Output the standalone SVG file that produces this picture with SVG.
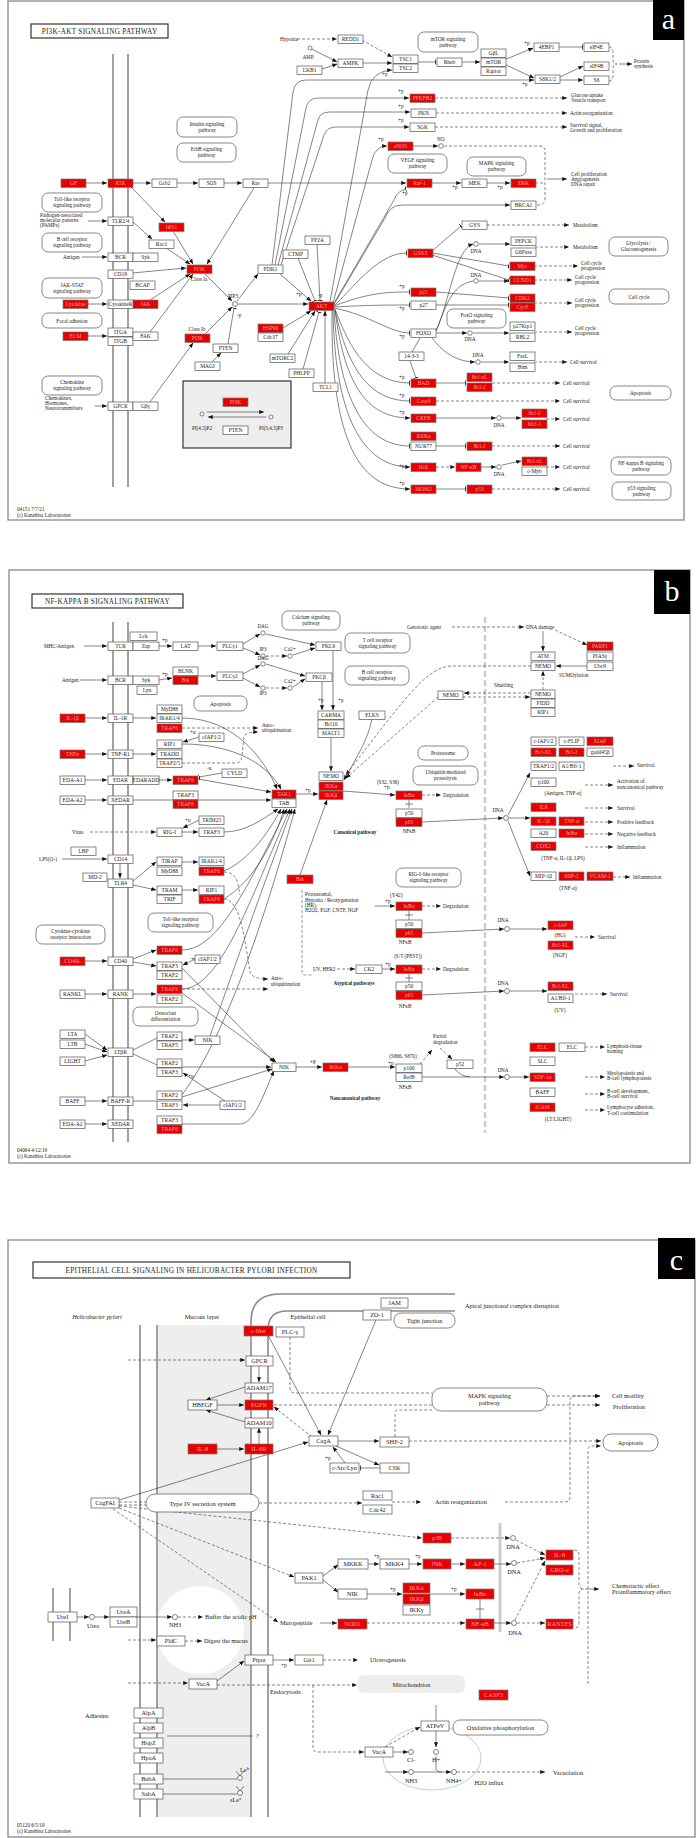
<svg xmlns="http://www.w3.org/2000/svg" width="700" height="1838" viewBox="0 0 700 1838">
<defs>
<marker id="ar" viewBox="0 0 10 10" refX="9.5" refY="5" markerWidth="5" markerHeight="5" orient="auto" markerUnits="userSpaceOnUse"><path d="M0,1L10,5L0,9z" fill="#111"/></marker>
<marker id="tb" viewBox="0 0 2 10" refX="1.5" refY="5" markerWidth="1" markerHeight="6" orient="auto" markerUnits="userSpaceOnUse"><rect width="2" height="10" fill="#111"/></marker>
<style>
text{font-family:"Liberation Serif","Times New Roman",serif;font-size:5.2px;fill:#222}
.fr{fill:none;stroke:#888;stroke-width:1.3}
.tb{fill:#fff;stroke:#333;stroke-width:1.2}
.ttl{font-size:7.2px;letter-spacing:.3px;text-anchor:middle}
.lab{font-size:30px;fill:#fff;text-anchor:middle}
.mem{stroke:#8a8a8a;stroke-width:1.6;fill:none}
.n rect{fill:#fff;stroke:#555;stroke-width:.7}
.r rect{fill:#e60000;stroke:#777;stroke-width:.7}
.n text,.r text{text-anchor:middle;font-size:5.5px}
.r text{fill:#ffa0a0}
.L text{font-size:6.3px}
.pw rect{fill:#fff;stroke:#555;stroke-width:.7}
.pw text{text-anchor:middle;font-size:5.2px}
.e{fill:none;stroke:#333;stroke-width:.6}
.a{marker-end:url(#ar)}
.i{marker-end:url(#tb)}
.d{stroke-dasharray:3 2}
.c{fill:#fff;stroke:#333;stroke-width:.6}
.m{text-anchor:middle}
.b{font-weight:bold}
.s6{font-size:6.3px}
</style>
</defs>
<rect width="700" height="1838" fill="#fff"/>

<!-- ================= PANEL A ================= -->
<g id="panelA-frame">
<rect x="8" y="1" width="676" height="519" class="fr"/>
<rect x="653" y="0" width="31" height="40" fill="#000"/><text x="668.5" y="29" class="lab">a</text>
<rect x="31" y="24" width="137" height="14" class="tb"/><text x="99.5" y="33.5" class="ttl">PI3K-AKT SIGNALING PATHWAY</text>
<line x1="113" y1="54" x2="113" y2="487" class="mem"/><line x1="128" y1="54" x2="128" y2="487" class="mem"/>
<rect x="183" y="381" width="108" height="67" fill="#eee" stroke="#333" stroke-width="1.2"/>
<text x="17" y="511">04151 7/7/21</text><text x="17" y="517">(c) Kanehisa Laboratories</text>
</g>

<g id="panelA-connectors">
<path class="e a" d="M86,183H107"/>
<path class="e a" d="M133,183H151"/>
<path class="e a" d="M177,183H198"/>
<path class="e a" d="M223,183H242"/>
<path class="e a" d="M268,183H406"/>
<path class="e a" d="M131,187L165,222"/>
<path class="e a" d="M173,231L193,264"/>
<path class="e a" d="M254,188L207,264"/>
<path class="e a" d="M133,222L152,239"/>
<path class="e a" d="M166,248L190,264"/>
<path class="e a" d="M82,257H107"/>
<path class="e a" d="M88,221H107"/>
<path class="e a" d="M132,273L186,268"/>
<path class="e a" d="M87,304H107"/>
<path class="e a" d="M150,300L190,274"/>
<path class="e a" d="M87,336H107"/>
<path class="e a" d="M150,332L193,274"/>
<path class="e a" d="M95,406H107"/>
<path class="e a" d="M150,402L193,343"/>
<path class="e a" d="M205,274L232,301"/>
<path class="e a" d="M205,334L232,307"/>
<path class="e a" d="M237,301L258,274"/>
<path class="e a" d="M238,304H308"/>
<path class="e a" d="M280,274L311,301"/>
<path class="e i" d="M228,344L234,308"/>
<path class="e a" d="M212,362L221,353"/>
<path class="e a" d="M283,328L311,311"/>
<path class="e a" d="M288,354L315,311"/>
<path class="e i" d="M303,369L319,312"/>
<path class="e a" d="M325,383V311"/>
<path class="e i" d="M317,244L320,301"/>
<path class="e i" d="M298,258L315,301"/>
<path class="e a" d="M272,265L293,92Q295,80 306,80H534"/>
<path class="e a" d="M275,265L306,108Q308,98 318,98H409"/>
<path class="e a" d="M278,265L318,120Q320,112 330,112H410"/>
<path class="e a" d="M281,265L324,135Q327,127 336,127H409"/>
<path class="e d a" d="M297,39H337"/>
<path class="e a" d="M312,49L337,62"/>
<path class="e a" d="M322,69L337,64"/>
<path class="e d a" d="M362,40L392,57"/>
<path class="e a" d="M363,63H392"/>
<path class="e a" d="M330,302L368,90Q372,71 392,70"/>
<path class="e i" d="M417,62H436"/>
<path class="e a" d="M461,62H480"/>
<path class="e a" d="M504,60L533,48"/>
<path class="e a" d="M504,64L534,78"/>
<path class="e i" d="M559,47H583"/>
<path class="e a" d="M560,77L583,66"/>
<path class="e a" d="M560,80H583"/>
<path class="e d" d="M609,47Q613,47 613,52V60Q613,64 617,64Q613,64 613,68V76Q613,81 609,81"/>
<path class="e a" d="M619,64H632"/>
<path class="e d a" d="M435,98H567"/>
<path class="e d a" d="M436,113H567"/>
<path class="e d a" d="M435,127H567"/>
<path class="e a" d="M333,303L372,160Q375,146 387,146"/>
<path class="e a" d="M412,146H438"/>
<path class="e d" d="M444,146H540Q545,146 545,151V198Q545,205 538,205H535"/>
<path class="e d" d="M535,183H545"/>
<path class="e a" d="M547,179H567"/>
<path class="e i" d="M333,305L394,200Q397,191 406,189"/>
<path class="e a" d="M431,183H461"/>
<path class="e a" d="M487,183H510"/>
<path class="e a" d="M333,306L385,218Q390,205 402,205H510"/>
<path class="e i" d="M334,306C360,280 380,253 407,253"/>
<path class="e i" d="M432,251L461,226"/>
<path class="e d a" d="M487,225H569"/>
<path class="e i" d="M432,253L509,266"/>
<path class="e i" d="M432,255L509,280"/>
<path class="e a" d="M436,331C450,300 455,250 473,244"/>
<path class="e a" d="M479,244H510"/>
<path class="e d a" d="M535,247H569"/>
<path class="e d a" d="M534,266H578"/>
<path class="e" d="M436,331C445,310 450,285 473,281"/>
<path class="e a" d="M479,281H509"/>
<path class="e d a" d="M534,280H572"/>
<path class="e i" d="M334,306C370,292 390,292 410,292"/>
<path class="e i" d="M436,292L509,298"/>
<path class="e i" d="M334,307C370,305 390,305 410,305"/>
<path class="e i" d="M436,305H509"/>
<path class="e d a" d="M534,303H572"/>
<path class="e i" d="M334,308C370,315 390,333 410,333"/>
<path class="e a" d="M436,333H467"/>
<path class="e a" d="M473,333H509"/>
<path class="e d a" d="M534,332H572"/>
<path class="e a" d="M432,338C445,355 460,362 475,362"/>
<path class="e a" d="M481,362H509"/>
<path class="e d a" d="M534,362H567"/>
<path class="e" d="M420,338L412,352"/>
<path class="e i" d="M410,361L416,378"/>
<path class="e i" d="M335,309C350,350 370,383 410,383"/>
<path class="e i" d="M436,383H466"/>
<path class="e d a" d="M492,383H560"/>
<path class="e i" d="M335,310C348,370 370,401 410,401"/>
<path class="e d a" d="M436,401H560"/>
<path class="e a" d="M335,310C345,390 370,418 410,418"/>
<path class="e a" d="M436,418H496"/>
<path class="e a" d="M502,418H521"/>
<path class="e d a" d="M546,419H560"/>
<path class="e i" d="M334,310C340,410 370,446 410,446"/>
<path class="e i" d="M436,446H466"/>
<path class="e d a" d="M492,446H560"/>
<path class="e a" d="M333,310C335,430 370,467 410,467"/>
<path class="e d a" d="M436,467H455"/>
<path class="e a" d="M480,467H496"/>
<path class="e a" d="M502,465L521,461"/>
<path class="e d a" d="M546,467H560"/>
<path class="e a" d="M332,310C330,460 370,489 410,489"/>
<path class="e i" d="M436,489H466"/>
<path class="e d a" d="M492,489H560"/>
<path class="e a" d="M207,412H264"/>
<path class="e a" d="M266,417H208"/>
<circle class="c" cx="310" cy="48" r="2"/>
<circle class="c" cx="235" cy="304" r="2.5"/>
<circle class="c" cx="441" cy="146" r="2.3"/>
<circle class="c" cx="476" cy="244" r="2.3"/>
<circle class="c" cx="476" cy="281" r="2.3"/>
<circle class="c" cx="470" cy="333" r="2.3"/>
<circle class="c" cx="478" cy="362" r="2.3"/>
<circle class="c" cx="499" cy="418" r="2.3"/>
<circle class="c" cx="499" cy="467" r="2.3"/>
<circle class="c" cx="202" cy="414" r="2"/>
<circle class="c" cx="271" cy="417" r="2"/>
</g>

<g id="panelA-labels">
<text x="280" y="41">Hypoxia</text><text x="308" y="59" class="m">AMP</text>
<text x="40" y="217">Pathogen-associated</text><text x="40" y="222">molecular patterns</text><text x="40" y="227">(PAMPs)</text>
<text x="63" y="259">Antigen</text>
<text x="45" y="400">Chemokines,</text><text x="45" y="405">Hormones,</text><text x="45" y="410">Neurotransmitters</text>
<text x="199" y="281" class="m">Class Ia</text><text x="197" y="331" class="m">Class Ib</text><text x="233" y="298" class="m">PIP3</text>
<text x="202" y="430" class="m">PI(4,5)P2</text><text x="271" y="430" class="m">PI(3,4,5)P3</text>
<text x="634" y="63">Protein</text><text x="634" y="68">synthesis</text>
<text x="571" y="97">Glucose uptake</text><text x="571" y="102">Vesicle transport</text>
<text x="570" y="115">Actin reorganization</text>
<text x="570" y="127">Survival signal,</text><text x="570" y="132">Growth and proliferation</text>
<text x="437" y="141">NO</text>
<text x="571" y="176">Cell proliferation</text><text x="571" y="181">Angiogenesis</text><text x="571" y="186">DNA repair</text>
<text x="573" y="227">Metabolism</text><text x="573" y="249">Metabolism</text>
<text x="476" y="253" class="m">DNA</text><text x="476" y="277" class="m">DNA</text><text x="470" y="341" class="m">DNA</text><text x="478" y="357" class="m">DNA</text><text x="499" y="427" class="m">DNA</text><text x="499" y="476" class="m">DNA</text>
<text x="581" y="265">Cell cycle</text><text x="581" y="270">progression</text>
<text x="575" y="279">Cell cycle</text><text x="575" y="284">progression</text>
<text x="575" y="302">Cell cycle</text><text x="575" y="307">progression</text>
<text x="575" y="330">Cell cycle</text><text x="575" y="335">progression</text>
<text x="570" y="364">Cell survival</text><text x="563" y="385">Cell survival</text><text x="563" y="403">Cell survival</text><text x="563" y="421">Cell survival</text><text x="563" y="448">Cell survival</text><text x="563" y="469">Cell survival</text><text x="563" y="491">Cell survival</text>
<text x="382" y="76">+p</text><text x="398" y="93">+p</text><text x="398" y="108">+p</text><text x="398" y="122">+p</text><text x="378" y="141">+p</text><text x="402" y="195">+p</text><text x="452" y="189">+p</text><text x="497" y="189">+p</text><text x="522" y="86">+p</text><text x="524" y="45">+p</text><text x="399" y="288">+p</text><text x="399" y="310">+p</text><text x="399" y="338">+p</text><text x="399" y="379">+p</text><text x="399" y="397">+p</text><text x="399" y="414">+p</text><text x="399" y="468">+p</text><text x="399" y="485">+p</text><text x="296" y="296">+p</text><text x="318" y="297">-p</text><text x="237" y="317">-p</text>
</g>

<g id="panelA-pathways">
<g id="a-pw-toll" class="pw" transform="translate(42,193)"><rect width="60" height="19" rx="6"/><text x="30" y="8">Toll-like receptor</text><text x="30" y="14">signaling pathway</text></g>
<g id="a-pw-bcr" class="pw" transform="translate(42,233)"><rect width="60" height="19" rx="6"/><text x="30" y="8">B cell receptor</text><text x="30" y="14">signaling pathway</text></g>
<g id="a-pw-jak" class="pw" transform="translate(42,278)"><rect width="60" height="20" rx="6"/><text x="30" y="8.5">JAK-STAT</text><text x="30" y="14.5">signaling pathway</text></g>
<g id="a-pw-focal" class="pw" transform="translate(42,313)"><rect width="60" height="15" rx="6"/><text x="30" y="9.5">Focal adhesion</text></g>
<g id="a-pw-chemo" class="pw" transform="translate(42,376)"><rect width="60" height="19" rx="6"/><text x="30" y="8">Chemokine</text><text x="30" y="14">signaling pathway</text></g>
<g id="a-pw-ins" class="pw" transform="translate(177,117)"><rect width="60" height="20" rx="6"/><text x="30" y="8.5">Insulin signaling</text><text x="30" y="14.5">pathway</text></g>
<g id="a-pw-erbb" class="pw" transform="translate(177,143)"><rect width="59" height="19" rx="6"/><text x="29.5" y="8">ErbB signaling</text><text x="29.5" y="14">pathway</text></g>
<g id="a-pw-mtor" class="pw" transform="translate(418,32)"><rect width="60" height="20" rx="6"/><text x="30" y="8.5">mTOR signaling</text><text x="30" y="14.5">pathway</text></g>
<g id="a-pw-vegf" class="pw" transform="translate(388,154)"><rect width="59" height="19" rx="6"/><text x="29.5" y="8">VEGF signaling</text><text x="29.5" y="14">pathway</text></g>
<g id="a-pw-mapk" class="pw" transform="translate(467,157)"><rect width="59" height="19" rx="6"/><text x="29.5" y="8">MAPK signaling</text><text x="29.5" y="14">pathway</text></g>
<g id="a-pw-glyc" class="pw" transform="translate(609,237)"><rect width="59" height="19" rx="6"/><text x="29.5" y="8">Glycolysis /</text><text x="29.5" y="14">Gluconeogenesis</text></g>
<g id="a-pw-cc" class="pw" transform="translate(609,289)"><rect width="60" height="15" rx="6"/><text x="30" y="9.5">Cell cycle</text></g>
<g id="a-pw-foxo" class="pw" transform="translate(447,309)"><rect width="59" height="19" rx="6"/><text x="29.5" y="8">FoxO signaling</text><text x="29.5" y="14">pathway</text></g>
<g id="a-pw-apop" class="pw" transform="translate(610,386)"><rect width="61" height="14" rx="6"/><text x="30.5" y="9">Apoptosis</text></g>
<g id="a-pw-nfkb" class="pw" transform="translate(611,457)"><rect width="60" height="18" rx="6"/><text x="30" y="7.5">NF-kappa B signaling</text><text x="30" y="13.5">pathway</text></g>
<g id="a-pw-p53" class="pw" transform="translate(612,482)"><rect width="59" height="18" rx="6"/><text x="29.5" y="7.5">p53 signaling</text><text x="29.5" y="13.5">pathway</text></g>
</g>

<g id="panelA-nodes">
<g id="a-GF" class="r" transform="translate(61,179)"><rect width="25" height="8.5"/><text x="12.5" y="6.4">GF</text></g>
<g id="a-RTK" class="r" transform="translate(108,179)"><rect width="25" height="8.5"/><text x="12.5" y="6.4">RTK</text></g>
<g id="a-IRS1" class="r" transform="translate(159,223)"><rect width="25" height="8.5"/><text x="12.5" y="6.4">IRS1</text></g>
<g id="a-PI3K1" class="r" transform="translate(187,265)"><rect width="25" height="8.5"/><text x="12.5" y="6.4">PI3K</text></g>
<g id="a-Cyt" class="r" transform="translate(63,300)"><rect width="25" height="8.5"/><text x="12.5" y="6.4">Cytokine</text></g>
<g id="a-JAK" class="r" transform="translate(133,300)"><rect width="25" height="8.5"/><text x="12.5" y="6.4">JAK</text></g>
<g id="a-ECM" class="r" transform="translate(63,332)"><rect width="25" height="8.5"/><text x="12.5" y="6.4">ECM</text></g>
<g id="a-PI3K2" class="r" transform="translate(185,334)"><rect width="25" height="8.5"/><text x="12.5" y="6.4">PI3K</text></g>
<g id="a-AKT" class="r" transform="translate(309,302)"><rect width="25" height="8.5"/><text x="12.5" y="6.4">AKT</text></g>
<g id="a-HSP90" class="r" transform="translate(258,324)"><rect width="25" height="8.5"/><text x="12.5" y="6.4">HSP90</text></g>
<g id="a-PFK2" class="r" transform="translate(410,94)"><rect width="25" height="8.5"/><text x="12.5" y="6.4">PFKFB2</text></g>
<g id="a-eNOS" class="r" transform="translate(388,142)"><rect width="25" height="8.5"/><text x="12.5" y="6.4">eNOS</text></g>
<g id="a-Raf1" class="r" transform="translate(407,179)"><rect width="25" height="8.5"/><text x="12.5" y="6.4">Raf-1</text></g>
<g id="a-ERK" class="r" transform="translate(511,179)"><rect width="25" height="8.5"/><text x="12.5" y="6.4">ERK</text></g>
<g id="a-GSK3" class="r" transform="translate(408,249)"><rect width="25" height="8.5"/><text x="12.5" y="6.4">GSK3</text></g>
<g id="a-Myc" class="r" transform="translate(510,262)"><rect width="25" height="8.5"/><text x="12.5" y="6.4">Myc</text></g>
<g id="a-CCND1" class="r" transform="translate(510,276)"><rect width="25" height="8.5"/><text x="12.5" y="6.4">CCND1</text></g>
<g id="a-p21" class="r" transform="translate(411,288)"><rect width="25" height="8.5"/><text x="12.5" y="6.4">p21</text></g>
<g id="a-CDK2" class="r" transform="translate(510,294)"><rect width="25" height="8.5"/><text x="12.5" y="6.4">CDK2</text></g>
<g id="a-CycE" class="r" transform="translate(510,303)"><rect width="25" height="8.5"/><text x="12.5" y="6.4">CycE</text></g>
<g id="a-BAD" class="r" transform="translate(411,379)"><rect width="25" height="8.5"/><text x="12.5" y="6.4">BAD</text></g>
<g id="a-BclxL1" class="r" transform="translate(467,373)"><rect width="25" height="8.5"/><text x="12.5" y="6.4">Bcl-xL</text></g>
<g id="a-Bcl2a" class="r" transform="translate(467,383)"><rect width="25" height="8.5"/><text x="12.5" y="6.4">Bcl-2</text></g>
<g id="a-Casp9" class="r" transform="translate(411,397)"><rect width="25" height="8.5"/><text x="12.5" y="6.4">Casp9</text></g>
<g id="a-CREB" class="r" transform="translate(411,414)"><rect width="25" height="8.5"/><text x="12.5" y="6.4">CREB</text></g>
<g id="a-Bcl2b" class="r" transform="translate(522,409)"><rect width="25" height="8.5"/><text x="12.5" y="6.4">Bcl-2</text></g>
<g id="a-Mcl1" class="r" transform="translate(522,420)"><rect width="25" height="8.5"/><text x="12.5" y="6.4">Mcl-1</text></g>
<g id="a-RXR" class="r" transform="translate(411,432)"><rect width="25" height="8.5"/><text x="12.5" y="6.4">RXRα</text></g>
<g id="a-Bcl2c" class="r" transform="translate(467,442)"><rect width="25" height="8.5"/><text x="12.5" y="6.4">Bcl-2</text></g>
<g id="a-IKK" class="r" transform="translate(411,463)"><rect width="25" height="8.5"/><text x="12.5" y="6.4">IKK</text></g>
<g id="a-NFkB" class="r" transform="translate(456,463)"><rect width="25" height="8.5"/><text x="12.5" y="6.4">NF-κB</text></g>
<g id="a-BclxL2" class="r" transform="translate(522,457)"><rect width="25" height="8.5"/><text x="12.5" y="6.4">Bcl-xL</text></g>
<g id="a-MDM2" class="r" transform="translate(411,485)"><rect width="25" height="8.5"/><text x="12.5" y="6.4">MDM2</text></g>
<g id="a-p53" class="r" transform="translate(467,485)"><rect width="25" height="8.5"/><text x="12.5" y="6.4">p53</text></g>
<g id="a-PI3K3" class="r" transform="translate(223,398)"><rect width="25" height="8.5"/><text x="12.5" y="6.4">PI3K</text></g>
<g id="a-Grb2" class="n" transform="translate(152,179)"><rect width="25" height="8.5"/><text x="12.5" y="6.4">Grb2</text></g>
<g id="a-SOS" class="n" transform="translate(199,179)"><rect width="25" height="8.5"/><text x="12.5" y="6.4">SOS</text></g>
<g id="a-Ras" class="n" transform="translate(243,179)"><rect width="25" height="8.5"/><text x="12.5" y="6.4">Ras</text></g>
<g id="a-TLR" class="n" transform="translate(108,217)"><rect width="25" height="8.5"/><text x="12.5" y="6.4">TLR2/4</text></g>
<g id="a-BCR" class="n" transform="translate(108,253)"><rect width="25" height="8.5"/><text x="12.5" y="6.4">BCR</text></g>
<g id="a-Syk" class="n" transform="translate(133,253)"><rect width="25" height="8.5"/><text x="12.5" y="6.4">Syk</text></g>
<g id="a-CD19" class="n" transform="translate(108,270)"><rect width="25" height="8.5"/><text x="12.5" y="6.4">CD19</text></g>
<g id="a-BCAP" class="n" transform="translate(130,281)"><rect width="25" height="8.5"/><text x="12.5" y="6.4">BCAP</text></g>
<g id="a-CytR" class="n" transform="translate(108,300)"><rect width="25" height="8.5"/><text x="12.5" y="6.4">CytokineR</text></g>
<g id="a-ITGA" class="n" transform="translate(108,328)"><rect width="25" height="8.5"/><text x="12.5" y="6.4">ITGA</text></g>
<g id="a-ITGB" class="n" transform="translate(108,337)"><rect width="25" height="8.5"/><text x="12.5" y="6.4">ITGB</text></g>
<g id="a-FAK" class="n" transform="translate(133,332)"><rect width="25" height="8.5"/><text x="12.5" y="6.4">FAK</text></g>
<g id="a-GPCR" class="n" transform="translate(108,402)"><rect width="25" height="8.5"/><text x="12.5" y="6.4">GPCR</text></g>
<g id="a-Gbg" class="n" transform="translate(133,402)"><rect width="25" height="8.5"/><text x="12.5" y="6.4">Gβγ</text></g>
<g id="a-Rac1" class="n" transform="translate(149,240)"><rect width="25" height="8.5"/><text x="12.5" y="6.4">Rac1</text></g>
<g id="a-PDK1" class="n" transform="translate(258,265)"><rect width="25" height="8.5"/><text x="12.5" y="6.4">PDK1</text></g>
<g id="a-PTEN" class="n" transform="translate(213,344)"><rect width="25" height="8.5"/><text x="12.5" y="6.4">PTEN</text></g>
<g id="a-MAGI" class="n" transform="translate(195,362)"><rect width="25" height="8.5"/><text x="12.5" y="6.4">MAGI</text></g>
<g id="a-Cdc37" class="n" transform="translate(258,333)"><rect width="25" height="8.5"/><text x="12.5" y="6.4">Cdc37</text></g>
<g id="a-mTORC2" class="n" transform="translate(270,354)"><rect width="25" height="8.5"/><text x="12.5" y="6.4">mTORC2</text></g>
<g id="a-PHLPP" class="n" transform="translate(289,369)"><rect width="25" height="8.5"/><text x="12.5" y="6.4">PHLPP</text></g>
<g id="a-TCL1" class="n" transform="translate(313,383)"><rect width="25" height="8.5"/><text x="12.5" y="6.4">TCL1</text></g>
<g id="a-PP2A" class="n" transform="translate(305,236)"><rect width="25" height="8.5"/><text x="12.5" y="6.4">PP2A</text></g>
<g id="a-CTMP" class="n" transform="translate(283,250)"><rect width="25" height="8.5"/><text x="12.5" y="6.4">CTMP</text></g>
<g id="a-REDD1" class="n" transform="translate(338,35)"><rect width="25" height="8.5"/><text x="12.5" y="6.4">REDD1</text></g>
<g id="a-AMPK" class="n" transform="translate(338,59)"><rect width="25" height="8.5"/><text x="12.5" y="6.4">AMPK</text></g>
<g id="a-LKB1" class="n" transform="translate(297,66)"><rect width="25" height="8.5"/><text x="12.5" y="6.4">LKB1</text></g>
<g id="a-TSC1" class="n" transform="translate(393,55)"><rect width="25" height="8.5"/><text x="12.5" y="6.4">TSC1</text></g>
<g id="a-TSC2" class="n" transform="translate(393,64)"><rect width="25" height="8.5"/><text x="12.5" y="6.4">TSC2</text></g>
<g id="a-Rheb" class="n" transform="translate(437,58)"><rect width="25" height="8.5"/><text x="12.5" y="6.4">Rheb</text></g>
<g id="a-GbL" class="n" transform="translate(481,49)"><rect width="25" height="8.5"/><text x="12.5" y="6.4">GβL</text></g>
<g id="a-mTOR" class="n" transform="translate(481,58)"><rect width="25" height="8.5"/><text x="12.5" y="6.4">mTOR</text></g>
<g id="a-Raptor" class="n" transform="translate(481,67)"><rect width="25" height="8.5"/><text x="12.5" y="6.4">Raptor</text></g>
<g id="a-4EBP1" class="n" transform="translate(534,43)"><rect width="25" height="8.5"/><text x="12.5" y="6.4">4EBP1</text></g>
<g id="a-eIF4E" class="n" transform="translate(584,43)"><rect width="25" height="8.5"/><text x="12.5" y="6.4">eIF4E</text></g>
<g id="a-S6K" class="n" transform="translate(535,75)"><rect width="25" height="8.5"/><text x="12.5" y="6.4">S6K1/2</text></g>
<g id="a-eIF4B" class="n" transform="translate(584,62)"><rect width="25" height="8.5"/><text x="12.5" y="6.4">eIF4B</text></g>
<g id="a-S6" class="n" transform="translate(584,76)"><rect width="25" height="8.5"/><text x="12.5" y="6.4">S6</text></g>
<g id="a-PKN" class="n" transform="translate(411,109)"><rect width="25" height="8.5"/><text x="12.5" y="6.4">PKN</text></g>
<g id="a-SGK" class="n" transform="translate(410,123)"><rect width="25" height="8.5"/><text x="12.5" y="6.4">SGK</text></g>
<g id="a-MEK" class="n" transform="translate(462,179)"><rect width="25" height="8.5"/><text x="12.5" y="6.4">MEK</text></g>
<g id="a-BRCA1" class="n" transform="translate(511,201)"><rect width="25" height="8.5"/><text x="12.5" y="6.4">BRCA1</text></g>
<g id="a-GYS" class="n" transform="translate(462,221)"><rect width="25" height="8.5"/><text x="12.5" y="6.4">GYS</text></g>
<g id="a-PEPCK" class="n" transform="translate(511,237)"><rect width="25" height="8.5"/><text x="12.5" y="6.4">PEPCK</text></g>
<g id="a-G6Pase" class="n" transform="translate(511,248)"><rect width="25" height="8.5"/><text x="12.5" y="6.4">G6Pase</text></g>
<g id="a-p27" class="n" transform="translate(411,301)"><rect width="25" height="8.5"/><text x="12.5" y="6.4">p27</text></g>
<g id="a-p27Kip1" class="n" transform="translate(510,322)"><rect width="25" height="8.5"/><text x="12.5" y="6.4">p27Kip1</text></g>
<g id="a-RBL2" class="n" transform="translate(510,333)"><rect width="25" height="8.5"/><text x="12.5" y="6.4">RBL2</text></g>
<g id="a-FOXO" class="n" transform="translate(411,329)"><rect width="25" height="8.5"/><text x="12.5" y="6.4">FOXO</text></g>
<g id="a-1433" class="n" transform="translate(399,352)"><rect width="25" height="8.5"/><text x="12.5" y="6.4">14-3-3</text></g>
<g id="a-FasL" class="n" transform="translate(510,352)"><rect width="25" height="8.5"/><text x="12.5" y="6.4">FasL</text></g>
<g id="a-Bim" class="n" transform="translate(510,363)"><rect width="25" height="8.5"/><text x="12.5" y="6.4">Bim</text></g>
<g id="a-NUR77" class="n" transform="translate(411,442)"><rect width="25" height="8.5"/><text x="12.5" y="6.4">NUR77</text></g>
<g id="a-cMyb" class="n" transform="translate(522,467)"><rect width="25" height="8.5"/><text x="12.5" y="6.4">c-Myb</text></g>
<g id="a-PTEN2" class="n" transform="translate(223,426)"><rect width="25" height="8.5"/><text x="12.5" y="6.4">PTEN</text></g>
</g>

<!-- ================= PANEL B ================= -->
<g id="panelB-frame">
<rect x="9" y="570" width="681" height="593" class="fr"/>
<rect x="654" y="570" width="36" height="44" fill="#000"/><text x="672" y="601" class="lab">b</text>
<rect x="32" y="594" width="151" height="14" class="tb"/><text x="107.5" y="603.5" class="ttl">NF-KAPPA B SIGNALING PATHWAY</text>
<line x1="113" y1="622" x2="113" y2="1142" class="mem"/><line x1="128" y1="622" x2="128" y2="1142" class="mem"/>
<line x1="485" y1="617" x2="485" y2="1133" stroke="#ccc" stroke-width="2.5" stroke-dasharray="6 3"/>
<path d="M302,890V972Q302,975 306,975H312" fill="none" stroke="#555" stroke-width=".6" stroke-dasharray="3 2"/>
<text x="17" y="1152">04064 4/12/19</text><text x="17" y="1158">(c) Kanehisa Laboratories</text>
</g>

<g id="panelB-connectors">
<path class="e a" d="M84,646H107"/>
<path class="e a" d="M159,646H172"/>
<path class="e a" d="M198,646H216"/>
<path class="e a" d="M243,644L260,634"/>
<path class="e a" d="M243,648L260,655"/>
<path class="e d a" d="M266,656H287"/>
<path class="e a" d="M266,634L315,645"/>
<path class="e a" d="M293,655L315,648"/>
<path class="e a" d="M80,680H107"/>
<path class="e a" d="M159,680L172,678"/>
<path class="e a" d="M198,676H216"/>
<path class="e a" d="M243,674L260,665"/>
<path class="e a" d="M243,678L260,687"/>
<path class="e d a" d="M266,688H287"/>
<path class="e a" d="M266,664L305,676"/>
<path class="e a" d="M293,687L305,679"/>
<path class="e a" d="M333,651V710"/>
<path class="e a" d="M322,682V710"/>
<path class="e a" d="M331,738V771"/>
<path class="e a" d="M85,718H107"/>
<path class="e a" d="M133,718H156"/>
<path class="e d a" d="M182,728H258"/>
<path class="e a" d="M182,718C235,718 265,760 277,789"/>
<path class="e a" d="M85,754H107"/>
<path class="e a" d="M133,754H156"/>
<path class="e a" d="M182,744C235,744 268,765 281,789"/>
<path class="e d a" d="M182,763H236Q242,763 242,755L244,737Q245,732 258,732"/>
<path class="e a" d="M199,737L183,742"/>
<path class="e a" d="M85,780H107"/>
<path class="e a" d="M159,780H172"/>
<path class="e i" d="M222,773L199,777"/>
<path class="e a" d="M198,779L271,792"/>
<path class="e a" d="M85,800H107"/>
<path class="e a" d="M133,800H271"/>
<path class="e d a" d="M90,832H156"/>
<path class="e a" d="M182,832H198"/>
<path class="e a" d="M199,820L183,828"/>
<path class="e a" d="M224,832C245,832 262,820 278,809"/>
<path class="e a" d="M62,859H107"/>
<path class="e a" d="M120,863V878"/>
<path class="e a" d="M133,881L156,862"/>
<path class="e a" d="M133,885L156,890"/>
<path class="e a" d="M182,862H198"/>
<path class="e a" d="M224,871C250,860 270,830 281,809"/>
<path class="e d" d="M224,872C238,872 238,885 240,895"/>
<path class="e a" d="M182,890H198"/>
<path class="e a" d="M224,899C255,880 275,840 284,809"/>
<path class="e d a" d="M224,899C240,899 245,940 250,972Q252,979 268,979"/>
<path class="e a" d="M182,950C220,950 250,880 287,809"/>
<path class="e a" d="M85,961H107"/>
<path class="e a" d="M133,959L156,950"/>
<path class="e a" d="M133,962L156,966"/>
<path class="e a" d="M195,959L183,965"/>
<path class="e a" d="M182,968L274,1062"/>
<path class="e a" d="M85,994H107"/>
<path class="e a" d="M133,994H156"/>
<path class="e a" d="M182,989C220,989 250,900 290,809"/>
<path class="e d a" d="M182,989H268"/>
<path class="e a" d="M182,993L276,1062"/>
<path class="e a" d="M85,1034L107,1050"/>
<path class="e a" d="M85,1044L107,1052"/>
<path class="e a" d="M85,1061L107,1055"/>
<path class="e" d="M133,1050L157,1038"/>
<path class="e" d="M133,1054L157,1065"/>
<path class="e a" d="M182,1040H194"/>
<path class="e a" d="M210,1036C230,980 265,880 292,809"/>
<path class="e a" d="M182,1067H271"/>
<path class="e a" d="M85,1101H107"/>
<path class="e" d="M133,1101H157"/>
<path class="e a" d="M182,1097L272,1069"/>
<path class="e a" d="M182,1095C230,1030 270,900 295,809"/>
<path class="e a" d="M220,1105H183"/>
<path class="e a" d="M225,1101L183,1073"/>
<path class="e a" d="M85,1124H107"/>
<path class="e a" d="M182,1124H240C255,1124 265,1090 274,1071"/>
<path class="e a" d="M296,1067H322"/>
<path class="e a" d="M348,1067H395"/>
<path class="e d a" d="M420,1064L432,1050"/>
<path class="e d a" d="M440,1048L452,1059"/>
<path class="e a" d="M422,1077H504"/>
<path class="e" d="M455,1069Q460,1076 470,1077"/>
<path class="e a" d="M510,1077H529"/>
<path class="e d a" d="M585,1047H605"/>
<path class="e d a" d="M585,1077H605"/>
<path class="e d a" d="M585,1094H605"/>
<path class="e d a" d="M585,1110H605"/>
<path class="e a" d="M296,794H318"/>
<path class="e a" d="M343,791L395,795"/>
<path class="e d a" d="M422,795H441"/>
<path class="e" d="M409,799.5V808M405,804H413"/>
<path class="e a" d="M422,822L503,818"/>
<path class="e a" d="M508,815L530,773"/>
<path class="e a" d="M509,818H530"/>
<path class="e a" d="M508,821L530,876"/>
<path class="e d a" d="M613,766H634"/>
<path class="e d a" d="M585,785H613"/>
<path class="e d a" d="M585,808H613"/>
<path class="e d a" d="M585,822H613"/>
<path class="e d a" d="M585,834H613"/>
<path class="e d a" d="M585,847H613"/>
<path class="e d a" d="M613,877H630"/>
<path class="e a" d="M300,875L327,800"/>
<path class="e d a" d="M452,627H524"/>
<path class="e a" d="M543,631V651"/>
<path class="e d a" d="M555,630L587,645"/>
<path class="e a" d="M587,666H556"/>
<path class="e d a" d="M543,690V671"/>
<path class="e d a" d="M531,693H464"/>
<path class="e d a" d="M463,697H530"/>
<path class="e d a" d="M531,666H452C430,666 410,690 346,775"/>
<path class="e d a" d="M438,697L346,778"/>
<path class="e a" d="M372,719C368,740 355,760 344,780"/>
<path class="e a" d="M375,906H395"/>
<path class="e" d="M409,911V920M405,915H413"/>
<path class="e d a" d="M422,906H441"/>
<path class="e a" d="M422,933L504,929"/>
<path class="e a" d="M510,929H547"/>
<path class="e d a" d="M575,937H595"/>
<path class="e d a" d="M337,969H355"/>
<path class="e a" d="M382,969H395"/>
<path class="e d a" d="M422,969H441"/>
<path class="e" d="M409,974V982M405,978H413"/>
<path class="e a" d="M422,995L504,991"/>
<path class="e a" d="M510,991H547"/>
<path class="e d a" d="M575,994H607"/>
<circle class="c" cx="263" cy="633" r="2.2"/><circle class="c" cx="263" cy="656" r="2.2"/><circle class="c" cx="290" cy="656" r="2.2"/>
<circle class="c" cx="263" cy="664" r="2.2"/><circle class="c" cx="263" cy="688" r="2.2"/><circle class="c" cx="290" cy="688" r="2.2"/>
<circle class="c" cx="506" cy="818" r="2.5"/><circle class="c" cx="507" cy="929" r="2.5"/><circle class="c" cx="507" cy="991" r="2.5"/><circle class="c" cx="507" cy="1077" r="2.5"/>
</g>

<g id="panelB-labels">
<text x="44" y="648">MHC/Antigen</text><text x="62" y="682">Antigen</text><text x="72" y="834">Virus</text><text x="39" y="861">LPS(O-)</text>
<text x="263" y="628" class="m">DAG</text><text x="263" y="651" class="m">IP3</text><text x="290" y="651" class="m">Ca2+</text>
<text x="263" y="660" class="m">DAG</text><text x="263" y="695" class="m">IP3</text><text x="290" y="683" class="m">Ca2+</text>
<text x="262" y="727">Auto-</text><text x="262" y="732">ubiquitination</text>
<text x="271" y="980">Auto-</text><text x="271" y="986">ubiquitination</text>
<text x="355" y="834" class="m b">Canonical pathway</text>
<text x="354" y="985" class="m b">Atypical pathways</text>
<text x="355" y="1100" class="m b">Noncanonical pathway</text>
<text x="388" y="784" class="m">(S32, S36)</text>
<text x="443" y="797">Degradation</text><text x="409" y="833" class="m">NFκB</text><text x="498" y="812" class="m">DNA</text>
<text x="407" y="629">Genotoxic agent</text><text x="526" y="629">DNA damage</text>
<text x="559" y="677">SUMOylation</text><text x="494" y="687">Shuttling</text>
<text x="637" y="767">Survival</text>
<text x="563" y="795" class="m">(Antigen, TNF-α)</text>
<text x="617" y="783">Activation of</text><text x="617" y="789">noncanonical pathway</text>
<text x="617" y="810">Survival</text><text x="617" y="824">Positive feedback</text><text x="617" y="836">Negative feedback</text><text x="617" y="849">Inflammation</text>
<text x="563" y="860" class="m">(TNF-α, IL-1β, LPS)</text>
<text x="633" y="879">Inflammation</text><text x="568" y="890" class="m">(TNF-α)</text>
<text x="305" y="896">Proteasomal,</text><text x="305" y="902">Hypoxia / Reoxygenation</text><text x="305" y="907">(HR),</text><text x="305" y="912">H2O2, EGF, CNTF, NGF</text>
<text x="313" y="971">UV, HER2</text>
<text x="390" y="897">(Y42)</text><text x="443" y="908">Degradation</text><text x="405" y="944" class="m">NFκB</text><text x="503" y="922" class="m">DNA</text>
<text x="560" y="937" class="m">(HG)</text><text x="560" y="957" class="m">(NGF)</text><text x="598" y="939">Survival</text>
<text x="408" y="958" class="m">(S/T (PEST))</text><text x="443" y="971">Degradation</text><text x="405" y="1008" class="m">NFκB</text><text x="503" y="985" class="m">DNA</text>
<text x="560" y="1012" class="m">(UV)</text><text x="610" y="996">Survival</text>
<text x="433" y="1038">Partial</text><text x="433" y="1044">degradation</text>
<text x="403" y="1058" class="m">(S866, S870)</text><text x="405" y="1089" class="m">NFκB</text><text x="503" y="1072" class="m">DNA</text>
<text x="558" y="1121" class="m">(LT/LIGHT)</text>
<text x="607" y="1048">Lymphoid-tissue</text><text x="607" y="1053">homing</text>
<text x="607" y="1075">Myelopoiesis and</text><text x="607" y="1080">B-cell lymphopoiesis</text>
<text x="607" y="1093">B-cell development,</text><text x="607" y="1098">B-cell survival</text>
<text x="607" y="1109">Lymphocyte adhesion,</text><text x="607" y="1115">T-cell costimulation</text>
<text x="162" y="642">+p</text><text x="162" y="676">+p</text><text x="305" y="792">+p</text><text x="384" y="789">+p</text><text x="318" y="702">+p</text><text x="338" y="702">+p</text><text x="190" y="734">+u</text><text x="207" y="770">-u</text><text x="185" y="822">+u</text><text x="188" y="1078">+u</text><text x="191" y="961">+u</text><text x="310" y="1064">+P</text><text x="388" y="1065">+p</text><text x="385" y="903">+p</text><text x="385" y="966">+p</text>
</g>

<g id="panelB-pathways">
<g id="b-pw-ca" class="pw" transform="translate(282,611)"><rect width="58" height="19" rx="6"/><text x="29" y="8">Calcium signaling</text><text x="29" y="14">pathway</text></g>
<g id="b-pw-tcr" class="pw" transform="translate(345,633)"><rect width="65" height="20" rx="6"/><text x="32.5" y="8.5">T cell receptor</text><text x="32.5" y="14.5">signaling pathway</text></g>
<g id="b-pw-bcr" class="pw" transform="translate(345,666)"><rect width="64" height="19" rx="6"/><text x="32" y="8">B cell receptor</text><text x="32" y="14">signaling pathway</text></g>
<g id="b-pw-apop" class="pw" transform="translate(194,696)"><rect width="53" height="15" rx="6"/><text x="26.5" y="9.5">Apoptosis</text></g>
<g id="b-pw-prot" class="pw" transform="translate(418,746)"><rect width="50" height="14" rx="6"/><text x="25" y="9">Proteasome</text></g>
<g id="b-pw-ubi" class="pw" transform="translate(413,766)"><rect width="65" height="19" rx="6"/><text x="32.5" y="8">Ubiquitin mediated</text><text x="32.5" y="14">proteolysis</text></g>
<g id="b-pw-rig" class="pw" transform="translate(396,868)"><rect width="65" height="19" rx="6"/><text x="32.5" y="8">RIG-I-like receptor</text><text x="32.5" y="14">signaling pathway</text></g>
<g id="b-pw-toll" class="pw" transform="translate(148,913)"><rect width="65" height="19" rx="6"/><text x="32.5" y="8">Toll-like receptor</text><text x="32.5" y="14">signaling pathway</text></g>
<g id="b-pw-cyt" class="pw" transform="translate(36,925)"><rect width="69" height="19" rx="6"/><text x="34.5" y="8">Cytokine-cytokine</text><text x="34.5" y="14">receptor interaction</text></g>
<g id="b-pw-osteo" class="pw" transform="translate(133,1007)"><rect width="65" height="19" rx="6"/><text x="32.5" y="8">Osteoclast</text><text x="32.5" y="14">differentiation</text></g>
</g>

<g id="panelB-nodes">
<g id="b-Lck" class="n" transform="translate(130,632)"><rect width="27" height="8.5"/><text x="13.5" y="6.4">Lck</text></g>
<g id="b-TCR" class="n" transform="translate(108,642)"><rect width="25" height="8.5"/><text x="12.5" y="6.4">TCR</text></g>
<g id="b-Zap" class="n" transform="translate(133,642)"><rect width="26" height="8.5"/><text x="13" y="6.4">Zap</text></g>
<g id="b-LAT" class="n" transform="translate(173,642)"><rect width="25" height="8.5"/><text x="12.5" y="6.4">LAT</text></g>
<g id="b-PLCg1" class="n" transform="translate(217,642)"><rect width="26" height="8.5"/><text x="13" y="6.4">PLCγ1</text></g>
<g id="b-PKCt" class="n" transform="translate(316,642)"><rect width="25" height="8.5"/><text x="12.5" y="6.4">PKCθ</text></g>
<g id="b-BCR" class="n" transform="translate(108,676)"><rect width="25" height="8.5"/><text x="12.5" y="6.4">BCR</text></g>
<g id="b-Syk" class="n" transform="translate(133,676)"><rect width="26" height="8.5"/><text x="13" y="6.4">Syk</text></g>
<g id="b-Lyn" class="n" transform="translate(137,686)"><rect width="20" height="8.5"/><text x="10" y="6.4">Lyn</text></g>
<g id="b-BLNK" class="n" transform="translate(173,667)"><rect width="25" height="8.5"/><text x="12.5" y="6.4">BLNK</text></g>
<g id="b-Btk1" class="r" transform="translate(173,676)"><rect width="25" height="8.5"/><text x="12.5" y="6.4">Btk</text></g>
<g id="b-PLCg2" class="n" transform="translate(217,672)"><rect width="26" height="8.5"/><text x="13" y="6.4">PLCγ2</text></g>
<g id="b-PKCb" class="n" transform="translate(306,673)"><rect width="26" height="8.5"/><text x="13" y="6.4">PKCβ</text></g>
<g id="b-IL1b" class="r" transform="translate(60,714)"><rect width="25" height="8.5"/><text x="12.5" y="6.4">IL-1β</text></g>
<g id="b-IL1R" class="n" transform="translate(108,714)"><rect width="25" height="8.5"/><text x="12.5" y="6.4">IL-1R</text></g>
<g id="b-MyD88a" class="n" transform="translate(157,705)"><rect width="25" height="8.5"/><text x="12.5" y="6.4">MyD88</text></g>
<g id="b-IRAKa" class="n" transform="translate(157,714)"><rect width="25" height="8.5"/><text x="12.5" y="6.4">IRAK1/4</text></g>
<g id="b-TRAF6a" class="r" transform="translate(157,724)"><rect width="25" height="8.5"/><text x="12.5" y="6.4">TRAF6</text></g>
<g id="b-TNFa" class="r" transform="translate(60,750)"><rect width="25" height="8.5"/><text x="12.5" y="6.4">TNFα</text></g>
<g id="b-TNFR1" class="n" transform="translate(108,750)"><rect width="25" height="8.5"/><text x="12.5" y="6.4">TNF-R1</text></g>
<g id="b-RIP1a" class="n" transform="translate(157,740)"><rect width="25" height="8.5"/><text x="12.5" y="6.4">RIP1</text></g>
<g id="b-TRADD" class="n" transform="translate(157,750)"><rect width="25" height="8.5"/><text x="12.5" y="6.4">TRADD</text></g>
<g id="b-TRAF25" class="n" transform="translate(157,759)"><rect width="25" height="8.5"/><text x="12.5" y="6.4">TRAF2/5</text></g>
<g id="b-cIAPa" class="n" transform="translate(199,733)"><rect width="25" height="8.5"/><text x="12.5" y="6.4">cIAP1/2</text></g>
<g id="b-EDAA1" class="n" transform="translate(60,776)"><rect width="25" height="8.5"/><text x="12.5" y="6.4">EDA-A1</text></g>
<g id="b-EDAR" class="n" transform="translate(108,776)"><rect width="25" height="8.5"/><text x="12.5" y="6.4">EDAR</text></g>
<g id="b-EDARADD" class="n" transform="translate(133,776)"><rect width="26" height="8.5"/><text x="13" y="6.4">EDARADD</text></g>
<g id="b-TRAF6b" class="r" transform="translate(173,776)"><rect width="25" height="8.5"/><text x="12.5" y="6.4">TRAF6</text></g>
<g id="b-CYLD" class="n" transform="translate(222,769)"><rect width="25" height="8.5"/><text x="12.5" y="6.4">CYLD</text></g>
<g id="b-EDAA2a" class="n" transform="translate(60,796)"><rect width="25" height="8.5"/><text x="12.5" y="6.4">EDA-A2</text></g>
<g id="b-XEDARa" class="n" transform="translate(108,796)"><rect width="25" height="8.5"/><text x="12.5" y="6.4">XEDAR</text></g>
<g id="b-TRAF3a" class="n" transform="translate(173,791)"><rect width="25" height="8.5"/><text x="12.5" y="6.4">TRAF3</text></g>
<g id="b-TRAF6c" class="r" transform="translate(173,800)"><rect width="25" height="8.5"/><text x="12.5" y="6.4">TRAF6</text></g>
<g id="b-TAK1" class="r" transform="translate(272,790)"><rect width="24" height="8.5"/><text x="12" y="6.4">TAK1</text></g>
<g id="b-TAB" class="n" transform="translate(272,799)"><rect width="24" height="8.5"/><text x="12" y="6.4">TAB</text></g>
<g id="b-CARMA" class="n" transform="translate(318,711)"><rect width="26" height="8.5"/><text x="13" y="6.4">CARMA</text></g>
<g id="b-Bcl10" class="n" transform="translate(318,720)"><rect width="26" height="8.5"/><text x="13" y="6.4">Bcl10</text></g>
<g id="b-MALT1" class="n" transform="translate(318,729)"><rect width="26" height="8.5"/><text x="13" y="6.4">MALT1</text></g>
<g id="b-NEMOa" class="n" transform="translate(319,772)"><rect width="24" height="8.5"/><text x="12" y="6.4">NEMO</text></g>
<g id="b-IKKa1" class="r" transform="translate(319,782)"><rect width="24" height="8.5"/><text x="12" y="6.4">IKKα</text></g>
<g id="b-IKKb1" class="r" transform="translate(319,791)"><rect width="24" height="8.5"/><text x="12" y="6.4">IKKβ</text></g>
<g id="b-RIGI" class="n" transform="translate(157,828)"><rect width="25" height="8.5"/><text x="12.5" y="6.4">RIG-I</text></g>
<g id="b-TRIM25" class="n" transform="translate(199,816)"><rect width="25" height="8.5"/><text x="12.5" y="6.4">TRIM25</text></g>
<g id="b-TRAF3b" class="n" transform="translate(199,828)"><rect width="25" height="8.5"/><text x="12.5" y="6.4">TRAF3</text></g>
<g id="b-LBP" class="n" transform="translate(71,847)"><rect width="25" height="8.5"/><text x="12.5" y="6.4">LBP</text></g>
<g id="b-CD14" class="n" transform="translate(108,855)"><rect width="25" height="8.5"/><text x="12.5" y="6.4">CD14</text></g>
<g id="b-MD2" class="n" transform="translate(83,873)"><rect width="24" height="8.5"/><text x="12" y="6.4">MD-2</text></g>
<g id="b-TLR4" class="n" transform="translate(108,879)"><rect width="25" height="8.5"/><text x="12.5" y="6.4">TLR4</text></g>
<g id="b-TIRAP" class="n" transform="translate(157,857)"><rect width="25" height="8.5"/><text x="12.5" y="6.4">TIRAP</text></g>
<g id="b-MyD88b" class="n" transform="translate(157,867)"><rect width="25" height="8.5"/><text x="12.5" y="6.4">MyD88</text></g>
<g id="b-IRAKb" class="n" transform="translate(199,857)"><rect width="25" height="8.5"/><text x="12.5" y="6.4">IRAK1/4</text></g>
<g id="b-TRAF6d" class="r" transform="translate(199,867)"><rect width="25" height="8.5"/><text x="12.5" y="6.4">TRAF6</text></g>
<g id="b-Btk2" class="r" transform="translate(287,875)"><rect width="26" height="8.5"/><text x="13" y="6.4">Btk</text></g>
<g id="b-TRAM" class="n" transform="translate(157,886)"><rect width="25" height="8.5"/><text x="12.5" y="6.4">TRAM</text></g>
<g id="b-RIP1b" class="n" transform="translate(199,886)"><rect width="25" height="8.5"/><text x="12.5" y="6.4">RIP1</text></g>
<g id="b-TRIF" class="n" transform="translate(157,895)"><rect width="25" height="8.5"/><text x="12.5" y="6.4">TRIF</text></g>
<g id="b-TRAF6e" class="r" transform="translate(199,895)"><rect width="25" height="8.5"/><text x="12.5" y="6.4">TRAF6</text></g>
<g id="b-TRAF6f" class="r" transform="translate(157,946)"><rect width="25" height="8.5"/><text x="12.5" y="6.4">TRAF6</text></g>
<g id="b-CD40L" class="r" transform="translate(60,957)"><rect width="25" height="8.5"/><text x="12.5" y="6.4">CD40L</text></g>
<g id="b-CD40" class="n" transform="translate(108,957)"><rect width="25" height="8.5"/><text x="12.5" y="6.4">CD40</text></g>
<g id="b-TRAF3c" class="n" transform="translate(157,962)"><rect width="25" height="8.5"/><text x="12.5" y="6.4">TRAF3</text></g>
<g id="b-TRAF2a" class="n" transform="translate(157,971)"><rect width="25" height="8.5"/><text x="12.5" y="6.4">TRAF2</text></g>
<g id="b-cIAPb" class="n" transform="translate(195,955)"><rect width="25" height="8.5"/><text x="12.5" y="6.4">cIAP1/2</text></g>
<g id="b-RANKL" class="n" transform="translate(60,990)"><rect width="25" height="8.5"/><text x="12.5" y="6.4">RANKL</text></g>
<g id="b-RANK" class="n" transform="translate(108,990)"><rect width="25" height="8.5"/><text x="12.5" y="6.4">RANK</text></g>
<g id="b-TRAF6g" class="r" transform="translate(157,985)"><rect width="25" height="8.5"/><text x="12.5" y="6.4">TRAF6</text></g>
<g id="b-TRAF2b" class="n" transform="translate(157,995)"><rect width="25" height="8.5"/><text x="12.5" y="6.4">TRAF2</text></g>
<g id="b-LTA" class="n" transform="translate(60,1030)"><rect width="25" height="8.5"/><text x="12.5" y="6.4">LTA</text></g>
<g id="b-LTB" class="n" transform="translate(60,1040)"><rect width="25" height="8.5"/><text x="12.5" y="6.4">LTB</text></g>
<g id="b-LIGHT" class="n" transform="translate(60,1057)"><rect width="25" height="8.5"/><text x="12.5" y="6.4">LIGHT</text></g>
<g id="b-LTbR" class="n" transform="translate(108,1048)"><rect width="25" height="8.5"/><text x="12.5" y="6.4">LTβR</text></g>
<g id="b-TRAF2c" class="n" transform="translate(157,1032)"><rect width="25" height="8.5"/><text x="12.5" y="6.4">TRAF2</text></g>
<g id="b-TRAF5" class="n" transform="translate(157,1041)"><rect width="25" height="8.5"/><text x="12.5" y="6.4">TRAF5</text></g>
<g id="b-NIKa" class="n" transform="translate(195,1036)"><rect width="25" height="8.5"/><text x="12.5" y="6.4">NIK</text></g>
<g id="b-TRAF2d" class="n" transform="translate(157,1059)"><rect width="25" height="8.5"/><text x="12.5" y="6.4">TRAF2</text></g>
<g id="b-TRAF3d" class="n" transform="translate(157,1068)"><rect width="25" height="8.5"/><text x="12.5" y="6.4">TRAF3</text></g>
<g id="b-NIKb" class="n" transform="translate(272,1063)"><rect width="24" height="8.5"/><text x="12" y="6.4">NIK</text></g>
<g id="b-IKKa2" class="r" transform="translate(323,1063)"><rect width="25" height="8.5"/><text x="12.5" y="6.4">IKKα</text></g>
<g id="b-BAFF" class="n" transform="translate(60,1097)"><rect width="25" height="8.5"/><text x="12.5" y="6.4">BAFF</text></g>
<g id="b-BAFFR" class="n" transform="translate(108,1097)"><rect width="25" height="8.5"/><text x="12.5" y="6.4">BAFF-R</text></g>
<g id="b-TRAF2e" class="n" transform="translate(157,1091)"><rect width="25" height="8.5"/><text x="12.5" y="6.4">TRAF2</text></g>
<g id="b-TRAF3e" class="n" transform="translate(157,1101)"><rect width="25" height="8.5"/><text x="12.5" y="6.4">TRAF3</text></g>
<g id="b-cIAPc" class="n" transform="translate(220,1101)"><rect width="25" height="8.5"/><text x="12.5" y="6.4">cIAP1/2</text></g>
<g id="b-EDAA2b" class="n" transform="translate(60,1120)"><rect width="25" height="8.5"/><text x="12.5" y="6.4">EDA-A2</text></g>
<g id="b-XEDARb" class="n" transform="translate(108,1120)"><rect width="25" height="8.5"/><text x="12.5" y="6.4">XEDAR</text></g>
<g id="b-TRAF3f" class="n" transform="translate(157,1116)"><rect width="25" height="8.5"/><text x="12.5" y="6.4">TRAF3</text></g>
<g id="b-TRAF6h" class="r" transform="translate(157,1125)"><rect width="25" height="8.5"/><text x="12.5" y="6.4">TRAF6</text></g>
<g id="b-ATM" class="n" transform="translate(531,652)"><rect width="24" height="8.5"/><text x="12" y="6.4">ATM</text></g>
<g id="b-NEMOb" class="n" transform="translate(531,662)"><rect width="24" height="8.5"/><text x="12" y="6.4">NEMO</text></g>
<g id="b-PARP1" class="r" transform="translate(587,642)"><rect width="26" height="8.5"/><text x="13" y="6.4">PARP1</text></g>
<g id="b-PIASy" class="n" transform="translate(587,652)"><rect width="26" height="8.5"/><text x="13" y="6.4">PIASγ</text></g>
<g id="b-Ubc9" class="n" transform="translate(587,662)"><rect width="26" height="8.5"/><text x="13" y="6.4">Ubc9</text></g>
<g id="b-NEMOc" class="n" transform="translate(438,691)"><rect width="25" height="8.5"/><text x="12.5" y="6.4">NEMO</text></g>
<g id="b-NEMOd" class="n" transform="translate(531,690)"><rect width="24" height="8.5"/><text x="12" y="6.4">NEMO</text></g>
<g id="b-PIDD" class="n" transform="translate(531,699)"><rect width="24" height="8.5"/><text x="12" y="6.4">PIDD</text></g>
<g id="b-RIP1c" class="n" transform="translate(531,708)"><rect width="24" height="8.5"/><text x="12" y="6.4">RIP1</text></g>
<g id="b-ELKS" class="n" transform="translate(359,711)"><rect width="26" height="8.5"/><text x="13" y="6.4">ELKS</text></g>
<g id="b-IkBa1" class="r" transform="translate(396,791)"><rect width="26" height="8.5"/><text x="13" y="6.4">IκBα</text></g>
<g id="b-p50a" class="n" transform="translate(396,809)"><rect width="26" height="8.5"/><text x="13" y="6.4">p50</text></g>
<g id="b-p65a" class="r" transform="translate(396,818)"><rect width="26" height="8.5"/><text x="13" y="6.4">p65</text></g>
<g id="b-cIAPd" class="n" transform="translate(531,737)"><rect width="25" height="8.5"/><text x="12.5" y="6.4">c-IAP1/2</text></g>
<g id="b-cFLIP" class="n" transform="translate(559,737)"><rect width="25" height="8.5"/><text x="12.5" y="6.4">c-FLIP</text></g>
<g id="b-XIAP" class="r" transform="translate(587,737)"><rect width="26" height="8.5"/><text x="13" y="6.4">XIAP</text></g>
<g id="b-BclXLa" class="r" transform="translate(531,748)"><rect width="25" height="8.5"/><text x="12.5" y="6.4">Bcl-XL</text></g>
<g id="b-Bcl2" class="r" transform="translate(559,748)"><rect width="25" height="8.5"/><text x="12.5" y="6.4">Bcl-2</text></g>
<g id="b-gadd" class="n" transform="translate(587,748)"><rect width="26" height="8.5"/><text x="13" y="6.4">gadd45β</text></g>
<g id="b-TRAF12" class="n" transform="translate(531,762)"><rect width="25" height="8.5"/><text x="12.5" y="6.4">TRAF1/2</text></g>
<g id="b-A1a" class="n" transform="translate(559,762)"><rect width="25" height="8.5"/><text x="12.5" y="6.4">A1/Bfl-1</text></g>
<g id="b-p100a" class="n" transform="translate(531,778)"><rect width="25" height="8.5"/><text x="12.5" y="6.4">p100</text></g>
<g id="b-IL8" class="r" transform="translate(531,803)"><rect width="25" height="8.5"/><text x="12.5" y="6.4">IL8</text></g>
<g id="b-IL1b2" class="r" transform="translate(531,817)"><rect width="25" height="8.5"/><text x="12.5" y="6.4">IL-1β</text></g>
<g id="b-TNFa2" class="r" transform="translate(559,817)"><rect width="25" height="8.5"/><text x="12.5" y="6.4">TNF-α</text></g>
<g id="b-A20" class="n" transform="translate(531,829)"><rect width="25" height="8.5"/><text x="12.5" y="6.4">A20</text></g>
<g id="b-IkBa2" class="r" transform="translate(559,829)"><rect width="25" height="8.5"/><text x="12.5" y="6.4">IκBα</text></g>
<g id="b-COX2" class="r" transform="translate(531,842)"><rect width="25" height="8.5"/><text x="12.5" y="6.4">COX2</text></g>
<g id="b-MIP1b" class="n" transform="translate(531,872)"><rect width="25" height="8.5"/><text x="12.5" y="6.4">MIP-1β</text></g>
<g id="b-MIP2" class="r" transform="translate(559,872)"><rect width="25" height="8.5"/><text x="12.5" y="6.4">MIP-2</text></g>
<g id="b-VCAM1" class="r" transform="translate(587,872)"><rect width="26" height="8.5"/><text x="13" y="6.4">VCAM-1</text></g>
<g id="b-IkBa3" class="r" transform="translate(396,902)"><rect width="26" height="8.5"/><text x="13" y="6.4">IκBα</text></g>
<g id="b-p50b" class="n" transform="translate(396,920)"><rect width="26" height="8.5"/><text x="13" y="6.4">p50</text></g>
<g id="b-p65b" class="r" transform="translate(396,929)"><rect width="26" height="8.5"/><text x="13" y="6.4">p65</text></g>
<g id="b-cIAP" class="r" transform="translate(548,921)"><rect width="25" height="8.5"/><text x="12.5" y="6.4">c-IAP</text></g>
<g id="b-BclXLb" class="r" transform="translate(548,941)"><rect width="25" height="8.5"/><text x="12.5" y="6.4">Bcl-XL</text></g>
<g id="b-CK2" class="n" transform="translate(356,965)"><rect width="26" height="8.5"/><text x="13" y="6.4">CK2</text></g>
<g id="b-IkBa4" class="r" transform="translate(396,965)"><rect width="26" height="8.5"/><text x="13" y="6.4">IκBα</text></g>
<g id="b-p50c" class="n" transform="translate(396,982)"><rect width="26" height="8.5"/><text x="13" y="6.4">p50</text></g>
<g id="b-p65c" class="r" transform="translate(396,991)"><rect width="26" height="8.5"/><text x="13" y="6.4">p65</text></g>
<g id="b-BclXLc" class="r" transform="translate(548,982)"><rect width="25" height="8.5"/><text x="12.5" y="6.4">Bcl-XL</text></g>
<g id="b-A1b" class="n" transform="translate(548,994)"><rect width="25" height="8.5"/><text x="12.5" y="6.4">A1/Bfl-1</text></g>
<g id="b-p52" class="n" transform="translate(447,1060)"><rect width="26" height="8.5"/><text x="13" y="6.4">p52</text></g>
<g id="b-p100b" class="n" transform="translate(396,1064)"><rect width="26" height="8.5"/><text x="13" y="6.4">p100</text></g>
<g id="b-RelB" class="n" transform="translate(396,1073)"><rect width="26" height="8.5"/><text x="13" y="6.4">RelB</text></g>
<g id="b-ELC" class="r" transform="translate(530,1043)"><rect width="25" height="8.5"/><text x="12.5" y="6.4">ELC</text></g>
<g id="b-SLCa" class="n" transform="translate(559,1043)"><rect width="26" height="8.5"/><text x="13" y="6.4">ELC</text></g>
<g id="b-SLCb" class="n" transform="translate(530,1057)"><rect width="25" height="8.5"/><text x="12.5" y="6.4">SLC</text></g>
<g id="b-SDF" class="r" transform="translate(530,1073)"><rect width="25" height="8.5"/><text x="12.5" y="6.4">SDF-1α</text></g>
<g id="b-BAFF2" class="n" transform="translate(530,1088)"><rect width="25" height="8.5"/><text x="12.5" y="6.4">BAFF</text></g>
<g id="b-ICAM" class="r" transform="translate(530,1103)"><rect width="25" height="8.5"/><text x="12.5" y="6.4">ICAM</text></g>
</g>

<!-- ================= PANEL C ================= -->
<g id="panelC-frame">
<rect x="8" y="1240" width="687" height="597" class="fr"/>
<rect x="658" y="1238" width="37" height="41" fill="#000"/><text x="676.5" y="1270" class="lab">c</text>
<rect x="33" y="1262" width="317" height="16" class="tb"/><text x="191.5" y="1273" class="ttl">EPITHELIAL CELL SIGNALING IN HELICOBACTER PYLORI INFECTION</text>
<rect x="157" y="1325" width="93" height="492" fill="#eee"/>
<circle cx="200" cy="1630" r="44" fill="#fff"/>
<line x1="140" y1="1325" x2="140" y2="1817" class="mem"/><line x1="157" y1="1325" x2="157" y2="1817" class="mem"/>
<path d="M251,1817V1322Q251,1294 280,1294H455" class="mem"/>
<path d="M268,1817V1330Q268,1311 287,1311H455" class="mem"/>
<line x1="53" y1="1588" x2="53" y2="1641" class="mem"/><line x1="70" y1="1588" x2="70" y2="1641" class="mem"/>
<line x1="500" y1="1523" x2="500" y2="1632" stroke="#ccc" stroke-width="3"/>
<ellipse cx="432" cy="1758" rx="49" ry="32" fill="none" stroke="#ccc" stroke-width="1"/>
<text x="17" y="1827">05120 6/5/19</text><text x="17" y="1833">(c) Kanehisa Laboratories</text>
</g>

<g id="panelC-connectors">
<path class="e d a" d="M128,1360H245"/>
<path class="e a" d="M259,1366V1382"/>
<path class="e a" d="M245,1387L206,1400"/>
<path class="e a" d="M217,1405H244"/>
<path class="e a" d="M245,1422L206,1410"/>
<path class="e a" d="M259,1444V1428"/>
<path class="e a" d="M217,1449H244"/>
<path class="e d a" d="M312,1437L274,1407"/>
<path class="e d" d="M432,1405H274"/>
<path class="e d" d="M290,1337V1388Q290,1393 295,1393H432"/>
<path class="e a" d="M268,1335L321,1435"/>
<path class="e a" d="M376,1320L328,1435"/>
<path class="e a" d="M119,1500L308,1442"/>
<path class="e d" d="M119,1502H146M119,1505H146"/>
<path class="e d a" d="M259,1503H362"/>
<path class="e d a" d="M392,1502H421"/>
<path class="e d a" d="M505,1502H565Q570,1502 570,1497V1401Q570,1396 575,1396H600"/>
<path class="e d a" d="M547,1396H600"/>
<path class="e d a" d="M547,1405H600"/>
<path class="e a" d="M338,1441H379"/>
<path class="e a" d="M336,1446L379,1465"/>
<path class="e a" d="M345,1463L333,1447"/>
<path class="e i" d="M380,1468H360"/>
<path class="e d" d="M395,1437V1413Q395,1410 398,1410H432"/>
<path class="e d a" d="M409,1441H601"/>
<path class="e d a" d="M588,1684V1450Q588,1446 592,1446H601"/>
<path class="e d a" d="M119,1506L422,1538"/>
<path class="e d a" d="M119,1508L294,1577"/>
<path class="e d a" d="M113,1509L278,1622"/>
<path class="e d a" d="M451,1538H510"/>
<path class="e d a" d="M516,1540L545,1555"/>
<path class="e a" d="M323,1576L338,1565"/>
<path class="e a" d="M323,1580L338,1592"/>
<path class="e a" d="M368,1564H379"/>
<path class="e a" d="M409,1564H422"/>
<path class="e a" d="M451,1564H465"/>
<path class="e a" d="M494,1564H511"/>
<path class="e d a" d="M517,1563L545,1558"/>
<path class="e a" d="M367,1594H402"/>
<path class="e a" d="M430,1594H465"/>
<path class="e" d="M480,1599V1619M476,1609H484"/>
<path class="e d a" d="M367,1623H465"/>
<path class="e a" d="M494,1623H511"/>
<path class="e d a" d="M517,1623H545"/>
<path class="e d a" d="M515,1620L545,1561"/>
<path class="e a" d="M320,1623H337"/>
<path class="e d" d="M574,1550Q579,1550 579,1555V1584Q579,1589 584,1589Q579,1589 579,1594V1623Q579,1628 574,1628"/>
<path class="e a" d="M585,1589H599"/>
<path class="e a" d="M77,1617H89"/>
<path class="e a" d="M95,1617H109"/>
<path class="e a" d="M137,1617H172"/>
<path class="e d a" d="M178,1617H203"/>
<path class="e d a" d="M128,1640H156"/>
<path class="e d a" d="M185,1641H202"/>
<path class="e a" d="M217,1681L244,1661"/>
<path class="e a" d="M273,1660H294"/>
<path class="e d a" d="M323,1660H358"/>
<path class="e d a" d="M128,1683H188"/>
<path class="e d a" d="M217,1685H357"/>
<path class="e d a" d="M313,1685V1748Q313,1752 318,1752H364"/>
<path class="e" d="M167,1736H253"/>
<path class="e" d="M163,1779H237"/>
<path class="e" d="M163,1794H237"/>
<path class="e" d="M240,1776L236,1771M240,1776L244,1771M240,1791L236,1786M240,1791L244,1786"/>
<path class="e" d="M436,1705V1721"/>
<path class="e a" d="M436,1731V1747"/>
<path class="e a" d="M393,1752H408"/>
<path class="e d a" d="M385,1747L420,1727"/>
<path class="e a" d="M385,1772H408"/>
<path class="e a" d="M414,1772H451"/>
<path class="e" d="M436,1756V1768Q436,1772 442,1772"/>
<path class="e d a" d="M457,1772H545"/>
<circle class="c" cx="92" cy="1617" r="2.5"/>
<circle class="c" cx="175" cy="1617" r="2.5"/>
<circle class="c" cx="513" cy="1538" r="2.5"/>
<circle class="c" cx="514" cy="1563" r="2.5"/>
<circle class="c" cx="514" cy="1623" r="2.5"/>
<circle class="c" cx="240" cy="1778" r="2.5"/>
<circle class="c" cx="240" cy="1793" r="2.5"/>
<circle class="c" cx="411" cy="1752" r="2.5"/>
<circle class="c" cx="436" cy="1752" r="2.5"/>
<circle class="c" cx="411" cy="1772" r="2.5"/>
<circle class="c" cx="454" cy="1772" r="2.5"/>
</g>

<g id="panelC-labels">
<text x="97" y="1319" class="m s6" font-style="italic">Helicobacter pylori</text>
<text x="202" y="1319" class="m s6">Mucous layer</text>
<text x="308" y="1319" class="m s6">Epithelial cell</text>
<text x="465" y="1308" class="s6">Apical junctional complex disruption</text>
<text x="612" y="1398" class="s6">Cell motility</text><text x="613" y="1409" class="s6">Proliferation</text>
<text x="435" y="1504" class="s6">Actin reorganization</text>
<text x="513" y="1549" class="m s6">DNA</text><text x="514" y="1574" class="m s6">DNA</text><text x="515" y="1635" class="m s6">DNA</text>
<text x="612" y="1588" class="s6">Chemotactic effect</text><text x="612" y="1594" class="s6">Proinflammatory effect</text>
<text x="280" y="1625" class="s6">Muropeptide</text>
<text x="205" y="1619" class="s6">Buffer the acidic pH</text>
<text x="204" y="1643" class="s6">Digest the mucus</text>
<text x="93" y="1628" class="m s6">Urea</text><text x="175" y="1627" class="m s6">NH3</text>
<text x="370" y="1662" class="s6">Ulcerogenesis</text>
<text x="270" y="1694" class="s6">Endocytosis</text>
<text x="85" y="1718" class="s6">Adhesins</text>
<text x="256" y="1738" class="s6">?</text>
<text x="240" y="1772" class="s6">Le<tspan dy="-2" font-size="4.5">b</tspan></text>
<text x="230" y="1802" class="s6">sLe<tspan dy="-2" font-size="4.5">x</tspan></text>
<text x="411" y="1762" class="m s6">Cl-</text><text x="436" y="1762" class="m s6">H+</text>
<text x="411" y="1783" class="m s6">NH3</text><text x="454" y="1783" class="m s6">NH4+</text>
<text x="489" y="1785" class="m s6">H2O influx</text>
<text x="553" y="1775" class="s6">Vacuolation</text>
<text x="374" y="1558">+p</text><text x="415" y="1558">+p</text><text x="390" y="1591">+p</text><text x="451" y="1591">+p</text><text x="281" y="1667">+p</text><text x="325" y="1460">+p</text>
</g>

<g id="panelC-pathways">
<g id="c-pw-t4ss" class="pw" transform="translate(146,1494)"><rect width="113" height="18" rx="9"/><text x="56.5" y="11.5" style="font-size:6.5px">Type IV secretion system</text></g>
<g id="c-pw-mapk" class="pw" transform="translate(432,1388)"><rect width="115" height="23" rx="9"/><text x="57.5" y="10" style="font-size:6.3px">MAPK signaling</text><text x="57.5" y="16.5" style="font-size:6.3px">pathway</text></g>
<g id="c-pw-apop" class="pw" transform="translate(603,1434)"><rect width="55" height="17" rx="8"/><text x="27.5" y="11" style="font-size:6.3px">Apoptosis</text></g>
<g id="c-pw-tj" class="pw" transform="translate(394,1313)"><rect width="61" height="15" rx="7"/><text x="30.5" y="10" style="font-size:6.3px">Tight junction</text></g>
<g id="c-pw-ox" class="pw" transform="translate(453,1720)"><rect width="95" height="15" rx="7"/><text x="47.5" y="10" style="font-size:6.3px">Oxidative phosphorylation</text></g>
<g id="c-pw-mito" transform="translate(358,1675)"><rect width="107" height="18" rx="6" fill="#eee"/><text x="53.5" y="11.5" class="m s6">Mitochondrion</text></g>
</g>

<g id="panelC-nodes">
<g id="c-cMet" class="r L" transform="translate(244,1326)"><rect width="29" height="10"/><text x="14.5" y="7.4">c-Met</text></g>
<g id="c-PLCg" class="n L" transform="translate(276,1327)"><rect width="28" height="10"/><text x="14" y="7.4">PLC-γ</text></g>
<g id="c-GPCR" class="n L" transform="translate(246,1356)"><rect width="27" height="10"/><text x="13.5" y="7.4">GPCR</text></g>
<g id="c-ADAM17" class="n L" transform="translate(245,1383)"><rect width="28" height="10"/><text x="14" y="7.4">ADAM17</text></g>
<g id="c-HBEGF" class="n L" transform="translate(188,1400)"><rect width="29" height="10"/><text x="14.5" y="7.4">HBEGF</text></g>
<g id="c-EGFR" class="r L" transform="translate(245,1400)"><rect width="28" height="10"/><text x="14" y="7.4">EGFR</text></g>
<g id="c-ADAM10" class="n L" transform="translate(245,1418)"><rect width="28" height="10"/><text x="14" y="7.4">ADAM10</text></g>
<g id="c-IL8a" class="r L" transform="translate(188,1444)"><rect width="29" height="10"/><text x="14.5" y="7.4">IL-8</text></g>
<g id="c-IL8R" class="r L" transform="translate(245,1444)"><rect width="28" height="10"/><text x="14" y="7.4">IL-8R</text></g>
<g id="c-CagA" class="n L" transform="translate(309,1436)"><rect width="29" height="10"/><text x="14.5" y="7.4">CagA</text></g>
<g id="c-cSrc" class="n L" transform="translate(330,1463)"><rect width="29" height="10"/><text x="14.5" y="7.4">c-Src/Lyn</text></g>
<g id="c-CSK" class="n L" transform="translate(380,1463)"><rect width="29" height="10"/><text x="14.5" y="7.4">CSK</text></g>
<g id="c-SHP2" class="n L" transform="translate(380,1437)"><rect width="29" height="10"/><text x="14.5" y="7.4">SHP-2</text></g>
<g id="c-CagPAI" class="n L" transform="translate(91,1498)"><rect width="28" height="10"/><text x="14" y="7.4">CagPAI</text></g>
<g id="c-JAM" class="n L" transform="translate(381,1298)"><rect width="27" height="10"/><text x="13.5" y="7.4">JAM</text></g>
<g id="c-ZO1" class="n L" transform="translate(363,1310)"><rect width="28" height="10"/><text x="14" y="7.4">ZO-1</text></g>
<g id="c-Rac1" class="n L" transform="translate(363,1491)"><rect width="29" height="9"/><text x="14.5" y="7">Rac1</text></g>
<g id="c-Cdc42" class="n L" transform="translate(363,1505)"><rect width="29" height="9"/><text x="14.5" y="7">Cdc42</text></g>
<g id="c-p38" class="r L" transform="translate(423,1533)"><rect width="28" height="10"/><text x="14" y="7.4">p38</text></g>
<g id="c-PAK1" class="n L" transform="translate(295,1573)"><rect width="28" height="10"/><text x="14" y="7.4">PAK1</text></g>
<g id="c-MKKK" class="n L" transform="translate(338,1559)"><rect width="30" height="10"/><text x="15" y="7.4">MKKK</text></g>
<g id="c-MKK4" class="n L" transform="translate(380,1559)"><rect width="29" height="10"/><text x="14.5" y="7.4">MKK4</text></g>
<g id="c-JNK" class="r L" transform="translate(423,1559)"><rect width="28" height="10"/><text x="14" y="7.4">JNK</text></g>
<g id="c-AP1" class="r L" transform="translate(466,1559)"><rect width="28" height="10"/><text x="14" y="7.4">AP-1</text></g>
<g id="c-IL8b" class="r L" transform="translate(546,1550)"><rect width="27" height="10"/><text x="13.5" y="7.4">IL-8</text></g>
<g id="c-GROa" class="r L" transform="translate(546,1565)"><rect width="27" height="10"/><text x="13.5" y="7.4">GRO-α</text></g>
<g id="c-NIK" class="n L" transform="translate(338,1589)"><rect width="29" height="10"/><text x="14.5" y="7.4">NIK</text></g>
<g id="c-IKKa" class="r L" transform="translate(403,1583)"><rect width="27" height="10"/><text x="13.5" y="7.4">IKKα</text></g>
<g id="c-IKKb" class="r L" transform="translate(403,1594)"><rect width="27" height="10"/><text x="13.5" y="7.4">IKKβ</text></g>
<g id="c-IKKg" class="n L" transform="translate(403,1605)"><rect width="27" height="10"/><text x="13.5" y="7.4">IKKγ</text></g>
<g id="c-IkBa" class="r L" transform="translate(466,1589)"><rect width="28" height="10"/><text x="14" y="7.4">IκBα</text></g>
<g id="c-NOD1" class="r L" transform="translate(338,1619)"><rect width="29" height="10"/><text x="14.5" y="7.4">NOD1</text></g>
<g id="c-NFkB" class="r L" transform="translate(466,1619)"><rect width="28" height="10"/><text x="14" y="7.4">NF-κB</text></g>
<g id="c-RANTES" class="r L" transform="translate(546,1619)"><rect width="27" height="10"/><text x="13.5" y="7.4">RANTES</text></g>
<g id="c-UreI" class="n L" transform="translate(48,1612)"><rect width="29" height="10"/><text x="14.5" y="7.4">UreI</text></g>
<g id="c-UreA" class="n L" transform="translate(110,1607)"><rect width="27" height="10"/><text x="13.5" y="7.4">UreA</text></g>
<g id="c-UreB" class="n L" transform="translate(110,1617)"><rect width="27" height="10"/><text x="13.5" y="7.4">UreB</text></g>
<g id="c-PldC" class="n L" transform="translate(157,1636)"><rect width="28" height="10"/><text x="14" y="7.4">PldC</text></g>
<g id="c-Ptprz" class="n L" transform="translate(245,1655)"><rect width="28" height="10"/><text x="14" y="7.4">Ptprz</text></g>
<g id="c-Git1" class="n L" transform="translate(295,1655)"><rect width="28" height="10"/><text x="14" y="7.4">Git1</text></g>
<g id="c-VacA1" class="n L" transform="translate(189,1679)"><rect width="28" height="10"/><text x="14" y="7.4">VacA</text></g>
<g id="c-AlpA" class="n L" transform="translate(134,1708)"><rect width="29" height="10"/><text x="14.5" y="7.4">AlpA</text></g>
<g id="c-AlpB" class="n L" transform="translate(134,1723)"><rect width="29" height="10"/><text x="14.5" y="7.4">AlpB</text></g>
<g id="c-HopZ" class="n L" transform="translate(134,1738)"><rect width="29" height="10"/><text x="14.5" y="7.4">HopZ</text></g>
<g id="c-HpaA" class="n L" transform="translate(134,1753)"><rect width="29" height="10"/><text x="14.5" y="7.4">HpaA</text></g>
<g id="c-BabA" class="n L" transform="translate(134,1774)"><rect width="29" height="10"/><text x="14.5" y="7.4">BabA</text></g>
<g id="c-SabA" class="n L" transform="translate(134,1789)"><rect width="29" height="10"/><text x="14.5" y="7.4">SabA</text></g>
<g id="c-CASP3" class="r L" transform="translate(479,1690)"><rect width="29" height="10"/><text x="14.5" y="7.4">CASP3</text></g>
<g id="c-ATPeV" class="n L" transform="translate(421,1721)"><rect width="28" height="10"/><text x="14" y="7.4">ATPeV</text></g>
<g id="c-VacA2" class="n L" transform="translate(365,1747)"><rect width="28" height="10"/><text x="14" y="7.4">VacA</text></g>
</g>
</svg>
